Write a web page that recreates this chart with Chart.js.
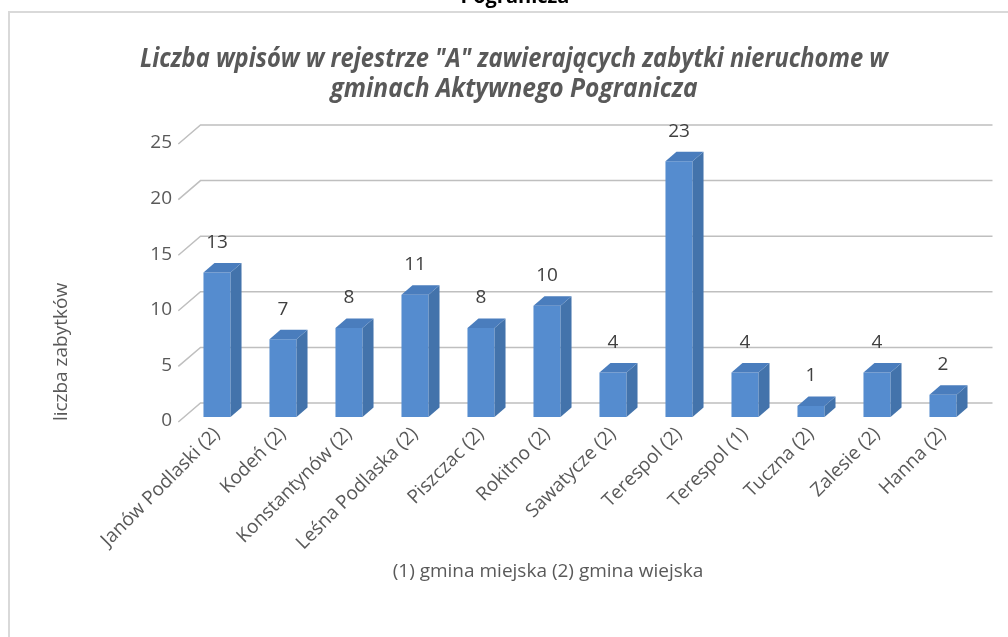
<!DOCTYPE html>
<html>
<head>
<meta charset="utf-8">
<script src="https://cdn.jsdelivr.net/npm/chart.js@4.4.0/dist/chart.umd.min.js"></script>
<style>
  body { margin: 0; background: #fff; }
  #wrap { width: 1008px; height: 637px; position: relative; }
</style>
</head>
<body>
<div id="wrap"><canvas id="myChart"></canvas></div>
<script>
'use strict';

const categories = ['Janów Podlaski (2)', 'Kodeń (2)', 'Konstantynów (2)', 'Leśna Podlaska (2)', 'Piszczac (2)', 'Rokitno (2)', 'Sawatycze (2)', 'Terespol (2)', 'Terespol (1)', 'Tuczna (2)', 'Zalesie (2)', 'Hanna (2)'];
const values = [13, 7, 8, 11, 8, 10, 4, 23, 4, 1, 4, 2];
const yTicks = [0, 5, 10, 15, 20, 25];

const titleLines = ['Liczba wpisów w rejestrze "A" zawierających zabytki nieruchome w', 'gminach Aktywnego Pogranicza'];
const topCutText = 'Pogranicza';
const yTitle = 'liczba zabytków';
const xTitle = '(1) gmina miejska (2) gmina wiejska';

const FONT = '"Open Sans", "Noto Sans", sans-serif';
const GREY_TEXT = '#595959';

// offsets for the fake 3d walls and bar depth
const wallBack = { dx: 16.5, dy: -14 };
const wallFront = { dx: -5.7, dy: 5 };
const barDepth = { dx: 11, dy: -9.5 };

function drawSqueezed(ctx, text, cx, cy, maxW) {
  ctx.save();
  ctx.translate(cx, cy);
  const w = ctx.measureText(text).width;
  const sx = Math.min(1, maxW / w);
  ctx.scale(sx, 1);
  ctx.fillText(text, 0, 0);
  ctx.restore();
}

const fake3d = {
  id: 'fake3d',
  beforeDraw(chart) {
    const ctx = chart.ctx;
    ctx.save();
    // outer frame
    ctx.strokeStyle = '#d9d9d9';
    ctx.lineWidth = 2;
    ctx.beginPath();
    ctx.moveTo(9, 640);
    ctx.lineTo(9, 12);
    ctx.lineTo(1010, 12);
    ctx.stroke();

    ctx.fillStyle = '#000';
    ctx.textAlign = 'center';
    ctx.textBaseline = 'alphabetic';
    ctx.font = 'bold 20px ' + FONT;
    ctx.fillText(topCutText, 515, 3);

    ctx.fillStyle = GREY_TEXT;
    ctx.textBaseline = 'middle';
    ctx.font = 'italic bold 26px ' + FONT;
    drawSqueezed(ctx, titleLines[0], 514, 60, 748);
    drawSqueezed(ctx, titleLines[1], 514, 90, 367);
    ctx.restore();
  },
  beforeDatasetsDraw(chart) {
    const ctx = chart.ctx;
    const area = chart.chartArea;
    const yScale = chart.scales.y;
    ctx.save();
    ctx.strokeStyle = '#bfbfbf';
    ctx.lineWidth = 1.5;
    for (let v of yTicks) {
      const y = yScale.getPixelForValue(v);
      ctx.beginPath();
      ctx.moveTo(area.left + wallFront.dx, y + wallFront.dy);
      ctx.lineTo(area.left + wallBack.dx, y + wallBack.dy);
      ctx.lineTo(area.right + wallBack.dx, y + wallBack.dy);
      ctx.stroke();
    }
    ctx.restore();
  },
  afterDatasetsDraw(chart) {
    const ctx = chart.ctx;
    const meta = chart.getDatasetMeta(0);
    ctx.save();
    meta.data.forEach(function(bar, i) {
      const left = bar.x - bar.width / 2;
      const right = bar.x + bar.width / 2;
      const top = bar.y;
      const base = bar.base;

      ctx.fillStyle = '#4373ab';
      ctx.beginPath();
      ctx.moveTo(right, top);
      ctx.lineTo(right + barDepth.dx, top + barDepth.dy);
      ctx.lineTo(right + barDepth.dx, base + barDepth.dy);
      ctx.lineTo(right, base);
      ctx.closePath();
      ctx.fill();

      ctx.fillStyle = '#4a7dbd';
      ctx.beginPath();
      ctx.moveTo(left, top);
      ctx.lineTo(left + barDepth.dx, top + barDepth.dy);
      ctx.lineTo(right + barDepth.dx, top + barDepth.dy);
      ctx.lineTo(right, top);
      ctx.closePath();
      ctx.fill();

      ctx.fillStyle = '#404040';
      ctx.font = '19px ' + FONT;
      ctx.textAlign = 'center';
      ctx.textBaseline = 'middle';
      ctx.fillText(String(values[i]), bar.x, top - 30);
    });
    ctx.restore();
  },
  afterDraw(chart) {
    const ctx = chart.ctx;
    ctx.save();
    ctx.fillStyle = GREY_TEXT;
    ctx.font = '19px ' + FONT;
    ctx.textAlign = 'center';
    ctx.textBaseline = 'middle';
    ctx.fillText(xTitle, 548, 572);

    ctx.translate(62, 352);
    ctx.rotate(-Math.PI / 2);
    ctx.fillText(yTitle, 0, 0);
    ctx.restore();
  }
};

const ctx = document.getElementById('myChart').getContext('2d');
const myChart = new Chart(ctx, {
  type: 'bar',
  data: {
    labels: categories,
    datasets: [{
      label: 'liczba zabytków',
      data: values,
      backgroundColor: '#558ccf',
      borderWidth: 0,
      barPercentage: 0.41,
      categoryPercentage: 1
    }]
  },
  options: {
    responsive: true,
    maintainAspectRatio: false,
    animation: false,
    layout: {
      padding: { top: 139, left: 0, right: 32, bottom: 20 }
    },
    plugins: {
      legend: { display: false },
      tooltip: { enabled: false },
      title: { display: false }
    },
    scales: {
      x: {
        grid: { display: false, drawTicks: false },
        border: { display: false },
        ticks: {
          color: GREY_TEXT,
          font: { family: FONT, size: 19 },
          maxRotation: 45,
          minRotation: 45,
          autoSkip: false,
          padding: 6
        },
        afterFit(scale) { scale.height = 200; }
      },
      y: {
        min: 0,
        max: 25,
        grid: { display: false, drawTicks: false },
        border: { display: false },
        ticks: {
          stepSize: 5,
          color: GREY_TEXT,
          font: { family: FONT, size: 19 },
          padding: 12,
          labelOffset: 4
        },
        afterFit(scale) { scale.width = 184; }
      }
    }
  },
  plugins: [fake3d]
});
</script>
</body>
</html>
